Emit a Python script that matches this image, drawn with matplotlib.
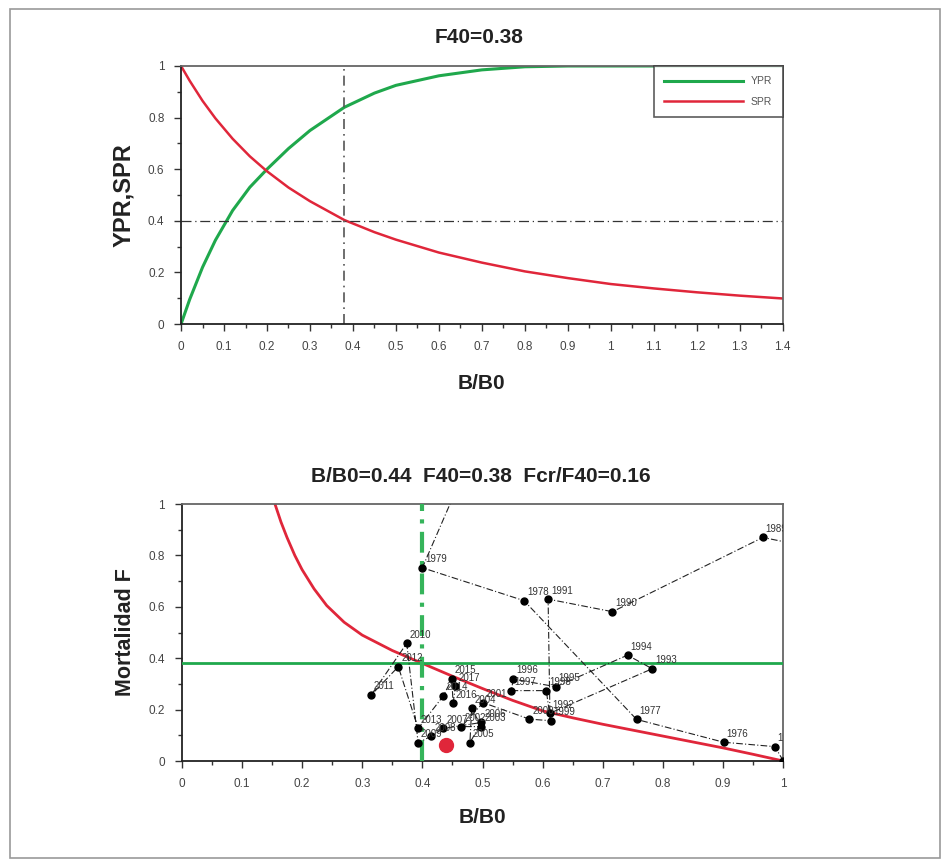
import numpy as np
import matplotlib
matplotlib.use('Agg')
import matplotlib.pyplot as plt
from matplotlib.ticker import MultipleLocator, FuncFormatter
from matplotlib.patches import Rectangle

plt.rcParams['font.family'] = ['Liberation Sans', 'DejaVu Sans']

# upper panel: yield and spawning per recruit against B/B0
b_top = [0, 0.02, 0.05, 0.08, 0.12, 0.16, 0.2, 0.25, 0.3, 0.38, 0.45, 0.5,
         0.6, 0.7, 0.8, 0.9, 1.0, 1.1, 1.2, 1.3, 1.4]
ypr = [0, 0.095, 0.22, 0.325, 0.44, 0.53, 0.6, 0.68, 0.75, 0.84, 0.895, 0.925,
       0.962, 0.985, 0.997, 1.0, 1.0, 1.0, 1.0, 1.0, 1.0]
spr = [1.0, 0.943, 0.865, 0.797, 0.718, 0.65, 0.592, 0.529, 0.476, 0.403, 0.356, 0.327,
       0.277, 0.238, 0.204, 0.178, 0.155, 0.138, 0.123, 0.11, 0.099]
f40 = 0.38
spr_ref = 0.4

# lower panel: equilibrium curve and yearly trajectory
b_eq = [0.155, 0.165, 0.175, 0.188, 0.2, 0.22, 0.241, 0.27, 0.3, 0.35, 0.4, 0.45,
        0.5, 0.55, 0.6, 0.65, 0.7, 0.75, 0.8, 0.85, 0.9, 0.95, 1.0]
f_eq = [1.0, 0.93, 0.87, 0.8, 0.745, 0.67, 0.605, 0.54, 0.49, 0.43, 0.38, 0.33,
        0.282, 0.236, 0.195, 0.168, 0.143, 0.12, 0.097, 0.074, 0.051, 0.026, 0.0]

years = list(range(1974, 2018))
nan = np.nan
b_years = [1.0, 0.986, 0.901, 0.756, 0.569, 0.400, 0.47,
           nan, nan, nan, nan, nan, nan, nan,
           1.05, 0.966, 0.716, 0.609, 0.612, 0.782, 0.741, 0.622, 0.551, 0.548,
           0.606, 0.613, 0.578, 0.501, 0.465, 0.498, 0.482, 0.479, 0.498, 0.435,
           0.415, 0.393, 0.374, 0.315, 0.360, 0.393, 0.435, 0.449, 0.451, 0.455]
f_years = [0.0, 0.056, 0.073, 0.162, 0.624, 0.752, 1.13,
           nan, nan, nan, nan, nan, nan, nan,
           0.83, 0.870, 0.581, 0.630, 0.186, 0.359, 0.412, 0.289, 0.319, 0.274,
           0.274, 0.157, 0.163, 0.227, 0.134, 0.134, 0.205, 0.071, 0.150, 0.127,
           0.097, 0.071, 0.458, 0.257, 0.367, 0.127, 0.254, 0.319, 0.224, 0.290]
b_now = 0.44
fcr_f40 = 0.16
b40 = 0.40

green = '#1fa84c'
red = '#e0263a'
tick_col = '#444444'
fmt = FuncFormatter(lambda v, p: '%g' % round(v, 2))

fig = plt.figure(figsize=(9.43, 8.65), dpi=100)
fig.add_artist(Rectangle((0.011, 0.008), 0.986, 0.982, transform=fig.transFigure,
                         fill=False, edgecolor='#999999', lw=1.2))

def style_axes(ax, xmax):
    ax.set_xlim(0, xmax)
    ax.set_ylim(0, 1)
    ax.xaxis.set_major_locator(MultipleLocator(0.1))
    ax.xaxis.set_minor_locator(MultipleLocator(0.05))
    ax.yaxis.set_major_locator(MultipleLocator(0.2))
    ax.yaxis.set_minor_locator(MultipleLocator(0.1))
    ax.xaxis.set_major_formatter(fmt)
    ax.yaxis.set_major_formatter(fmt)
    ax.tick_params(which='both', direction='out', colors='#333333', labelcolor=tick_col,
                   labelsize=8.5, width=1)
    ax.tick_params(which='major', length=5, pad=7)
    ax.tick_params(which='minor', length=3)
    for s in ['left', 'bottom']:
        ax.spines[s].set_color('#222222')
        ax.spines[s].set_linewidth(1.3)
    for s in ['top', 'right']:
        ax.spines[s].set_color('#666666')
        ax.spines[s].set_linewidth(1.3)

# ---- top
ax1 = fig.add_axes([0.192, 0.6254, 0.638, 0.2983])
style_axes(ax1, 1.4)
ax1.plot(b_top, ypr, color=green, lw=2.2, label='YPR')
ax1.plot(b_top, spr, color=red, lw=1.8, label='SPR')
ax1.axhline(spr_ref, color='#333333', lw=0.9, ls=(0, (8, 3, 1, 3)))
ax1.axvline(f40, color='#555555', lw=1.2, ls=(0, (6, 3, 1, 3)))
leg = ax1.legend(loc='upper right', fontsize=7.5, frameon=True, fancybox=False,
                 borderaxespad=0, handlelength=7.5, labelcolor='#555555',
                 borderpad=1.0, labelspacing=1.0)
leg.get_frame().set_edgecolor('#333333')
leg.get_frame().set_linewidth(1.2)
ax1.set_xlabel('B/B0', fontsize=15, fontweight='bold', color='#222222', labelpad=15)
ax1.set_ylabel('YPR,SPR', fontsize=17, fontweight='bold', color='#222222', labelpad=9)
fig.text(0.5085, 0.957, 'F40=0.38', ha='center', va='center', fontsize=15,
         fontweight='bold', color='#222222')

# ---- bottom
ax2 = fig.add_axes([0.1927, 0.1202, 0.638, 0.2971])
style_axes(ax2, 1.0)
ax2.plot(b_eq, f_eq, color=red, lw=2.0, zorder=2)
ax2.axhline(f40, color=green, lw=2.0, zorder=3)
ax2.axvline(b40, color='#35b45a', lw=3.0, ls=(0, (5, 2, 1, 2)), zorder=3)
ax2.plot(b_years, f_years, color='#222222', lw=0.8, ls=(0, (6, 2, 1, 2)), zorder=4)
ax2.plot(b_years, f_years, 'o', color='black', ms=5, zorder=5)
for yr, b, f in zip(years, b_years, f_years):
    if np.isnan(b):
        continue
    ax2.annotate(str(yr), (b, f), xytext=(2, 4), textcoords='offset points',
                 fontsize=7, color='#333333', clip_on=True, annotation_clip=False,
                 zorder=6)
ax2.plot([b_now], [f40 * fcr_f40], 'o', color=red, ms=10, zorder=7)
ax2.set_xlabel('B/B0', fontsize=15, fontweight='bold', color='#222222', labelpad=13)
ax2.set_ylabel('Mortalidad F', fontsize=15.5, fontweight='bold', color='#222222', labelpad=9)
fig.text(0.510, 0.4486, 'B/B0=0.44  F40=0.38  Fcr/F40=0.16', ha='center', va='center',
         fontsize=15, fontweight='bold', color='#222222')

fig.savefig('out.png', dpi=100)
